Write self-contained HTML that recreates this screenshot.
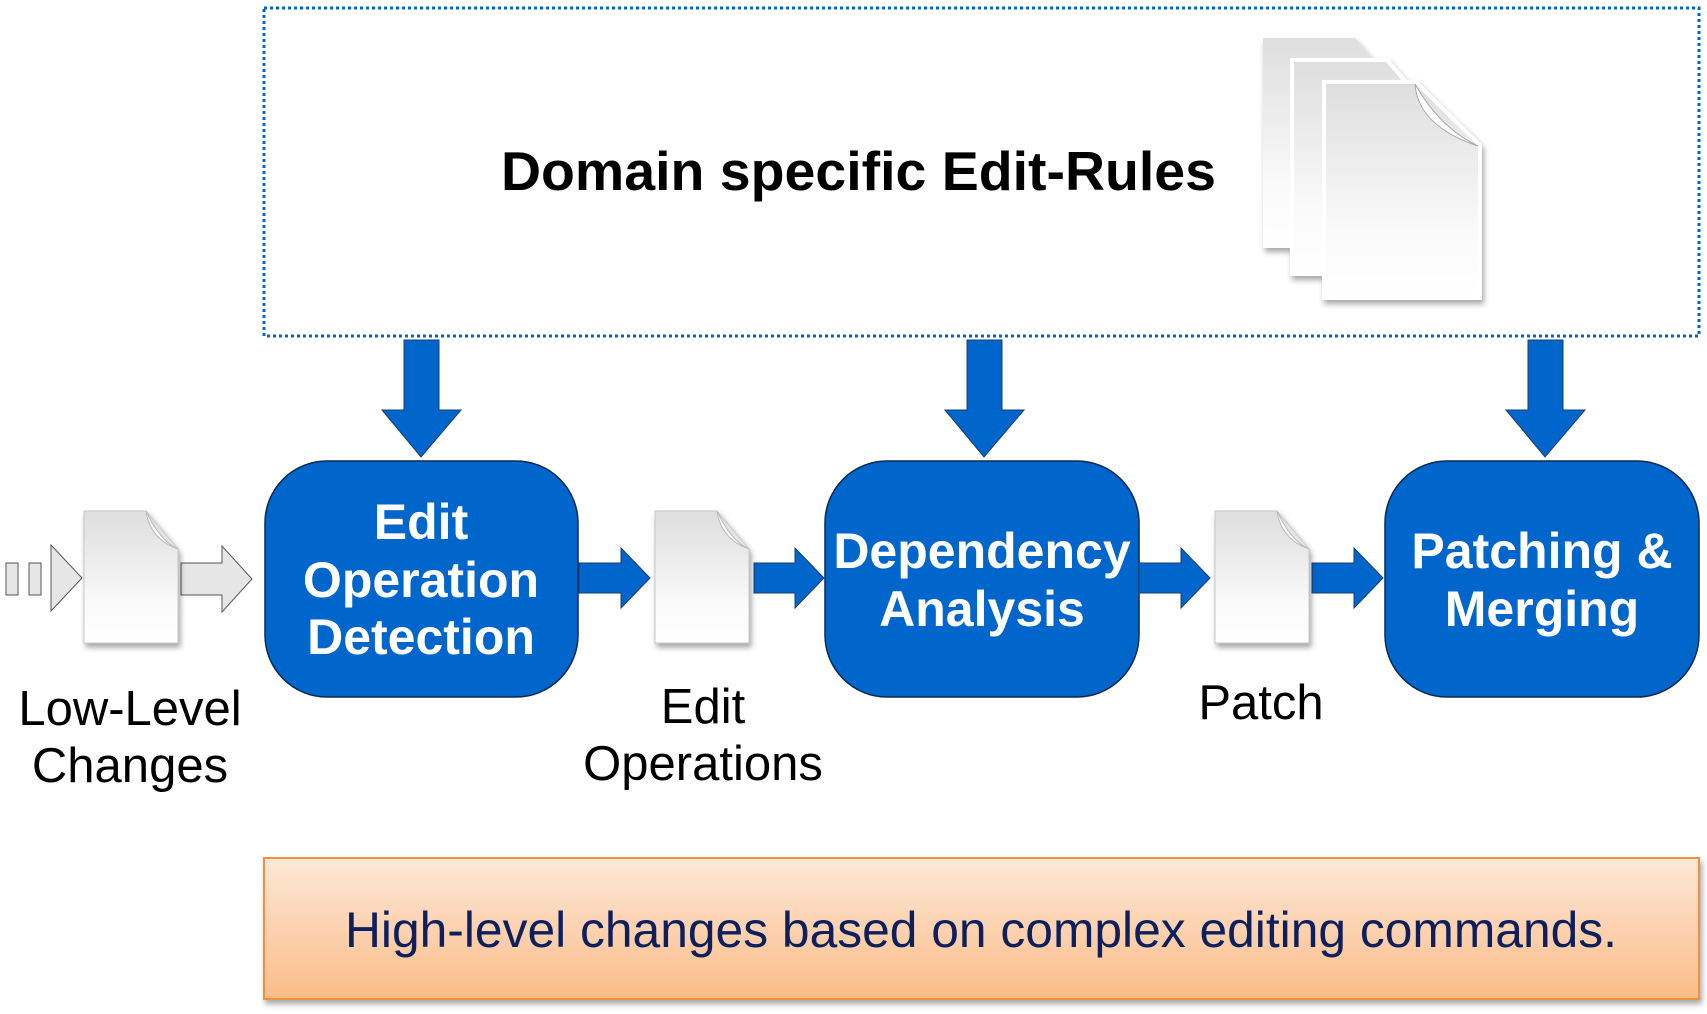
<!DOCTYPE html>
<html><head><meta charset="utf-8"><style>
html,body{margin:0;padding:0;background:#fff;}
svg{display:block;}
</style></head><body>
<svg width="1707" height="1014" viewBox="0 0 1707 1014" xmlns="http://www.w3.org/2000/svg" font-family="Liberation Sans, Arial, sans-serif">
<defs>
<linearGradient id="doc" x1="0" y1="0" x2="0" y2="1">
<stop offset="0" stop-color="#dedede"/><stop offset="0.7" stop-color="#fafafa"/><stop offset="1" stop-color="#ffffff"/></linearGradient>
<linearGradient id="org" x1="0" y1="0" x2="0" y2="1">
<stop offset="0" stop-color="#fde8d8"/><stop offset="1" stop-color="#fbbc88"/></linearGradient>
<filter id="sh" x="-10%" y="-10%" width="130%" height="130%"><feDropShadow dx="2" dy="4" stdDeviation="3" flood-color="#000" flood-opacity="0.35"/></filter>
<g id="d1">
<path d="M0,0 H62 L94,38 V132 H0 Z" fill="url(#doc)" stroke="#c8c8c8" stroke-width="1" filter="url(#sh)"/>
<path d="M62,0 Q66,28 94,38 Q76,30 62,0 Z" fill="#fff" stroke="#bbb" stroke-width="1"/>
</g>
</defs>
<rect x="264" y="8" width="1435" height="328" fill="none" stroke="#0066cc" stroke-width="3" stroke-dasharray="3,3"/>
<text x="501" y="190" font-size="55" font-weight="bold" fill="#000" textLength="715" lengthAdjust="spacingAndGlyphs">Domain specific Edit-Rules</text>
<g filter="url(#sh)">
<path d="M1263,38 H1355 L1374,60 V248 H1263 Z" fill="url(#doc)"/>
<path d="M1294,62 H1386 L1405,84 V272 H1294 Z" fill="url(#doc)" stroke="#fff" stroke-width="8" paint-order="stroke"/>
<path d="M1326,84 H1415 L1478,146 V296 H1326 Z" fill="url(#doc)" stroke="#fff" stroke-width="8" paint-order="stroke"/>
</g>
<path d="M1415,84 Q1418,126 1478,146 Q1440,128 1415,84 Z" fill="#fff" stroke="#aaa"/>
<g fill="#0066cc" stroke="#1a3d6e" stroke-width="1">
<path d="M404,340 H439 V410 H461 L421,457 L382,410 H404 Z"/>
<path d="M967,340 H1002 V410 H1024 L984,457 L945,410 H967 Z"/>
<path d="M1528,340 H1563 V410 H1585 L1545,457 L1506,410 H1528 Z"/>
</g>
<g fill="#0066cc" stroke="#0a2a50" stroke-width="1.5">
<rect x="265" y="461" width="313" height="236" rx="62"/>
<rect x="825" y="461" width="314" height="236" rx="62"/>
<rect x="1385" y="461" width="314" height="236" rx="62"/>
</g>
<g fill="#fff" font-weight="bold" font-size="50" text-anchor="middle">
<text x="421" y="539">Edit</text>
<text x="421" y="597">Operation</text>
<text x="421" y="654">Detection</text>
<text x="982" y="568">Dependency</text>
<text x="982" y="626">Analysis</text>
<text x="1542" y="568">Patching &amp;</text>
<text x="1542" y="626">Merging</text>
</g>
<g fill="#0066cc" stroke="#1a3d6e" stroke-width="1">
<path d="M579,563 H621 V548 L650,578 L621,608 V593 H579 Z"/>
<path d="M754,563 H795 V548 L824,578 L795,608 V593 H754 Z"/>
<path d="M1139,563 H1181 V548 L1210,578 L1181,608 V593 H1139 Z"/>
<path d="M1312,563 H1354 V548 L1383,578 L1354,608 V593 H1312 Z"/>
</g>
<g fill="#e6e6e6" stroke="#555" stroke-width="1">
<rect x="6" y="563" width="12" height="32"/>
<rect x="29" y="563" width="12" height="32"/>
<path d="M51,545 L82,578 L51,611 Z"/>
<path d="M181,563 H222 V546 L252,579 L222,612 V595 H181 Z"/>
</g>
<use href="#d1" x="84" y="511"/>
<use href="#d1" x="655" y="511"/>
<use href="#d1" x="1215" y="511"/>
<g font-size="49" text-anchor="middle" fill="#000">
<text x="130" y="725">Low-Level</text>
<text x="130" y="782">Changes</text>
<text x="703" y="723">Edit</text>
<text x="703" y="780">Operations</text>
<text x="1261" y="719">Patch</text>
</g>
<rect x="264" y="858" width="1435" height="141" fill="url(#org)" stroke="#f39040" stroke-width="2" filter="url(#sh)"/>
<text x="981" y="947" font-size="50" text-anchor="middle" fill="#0d1f5c" textLength="1272" lengthAdjust="spacingAndGlyphs">High-level changes based on complex editing commands.</text>
</svg>
</body></html>
